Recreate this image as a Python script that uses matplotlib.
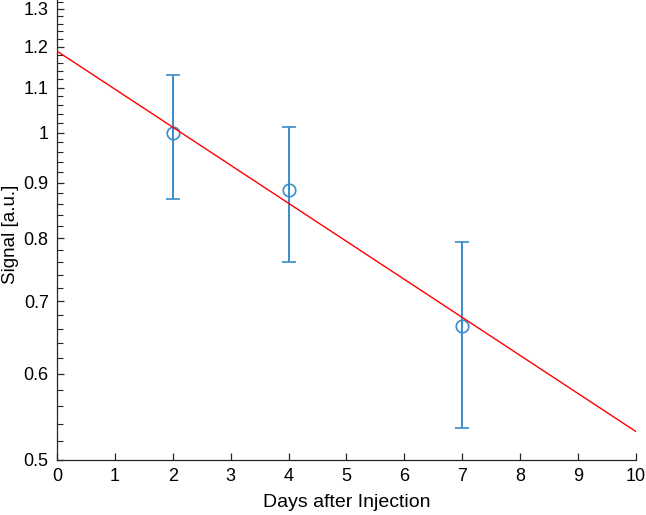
import numpy as np
import matplotlib.pyplot as plt
from matplotlib.ticker import FixedLocator, FixedFormatter, MultipleLocator

plt.rcParams['font.family'] = ['Liberation Sans', 'DejaVu Sans']

# measured signal (mean +/- error) per day
days = [2, 4, 7]
signal = [1.0, 0.886, 0.664]
signal_err = [0.13, 0.126, 0.129]

# exponential fit  y = a * exp(-k * t)
fit_a = 1.189
fit_k = 0.0806
fit_days = [0, 10]

yticks = [0.5, 0.6, 0.7, 0.8, 0.9, 1.0, 1.1, 1.2, 1.3]
yticklabels = ['0.5', '0.6', '0.7', '0.8', '0.9', '1', '1.1', '1.2', '1.3']

blue = '#3a8ccb'

fig = plt.figure(figsize=(6.46, 5.15), dpi=100)
ax = fig.add_axes([0.0882, 0.107, 0.896, 0.893])

t = np.array(fit_days, dtype=float)
ax.plot(t, fit_a * np.exp(-fit_k * t), color='red', lw=1.0, zorder=3)

ax.errorbar(days, signal, yerr=signal_err, fmt='o', color=blue,
            mfc='none', mec=blue, ms=9, mew=1.2, elinewidth=1.4,
            capsize=5, capthick=1.4, zorder=2)

ax.set_yscale('log')
ax.set_xlim(0, 10)
ax.set_ylim(0.5, 1.325)

ax.xaxis.set_major_locator(MultipleLocator(1))
ax.yaxis.set_major_locator(FixedLocator(yticks))
ax.yaxis.set_major_formatter(FixedFormatter(yticklabels))
ax.yaxis.set_minor_locator(FixedLocator(np.arange(0.52, 1.33, 0.02)))
ax.yaxis.set_minor_formatter(FixedFormatter([]))

for s in ['top', 'right']:
    ax.spines[s].set_visible(False)
for s in ['left', 'bottom']:
    ax.spines[s].set_color('#262626')
    ax.spines[s].set_linewidth(0.9)

ax.tick_params(which='major', direction='in', length=5, width=0.9,
               labelsize=13, colors='#262626', labelcolor='black', pad=6)
ax.tick_params(which='minor', direction='in', length=4.5, width=0.8,
               colors='#262626')

ax.set_xlabel('Days after Injection', fontsize=14, labelpad=6)
ax.set_ylabel('Signal [a.u.]', fontsize=13.5, va='center')
ax.yaxis.set_label_coords(-0.08, 0.49)

fig.savefig('out.png', dpi=100)
